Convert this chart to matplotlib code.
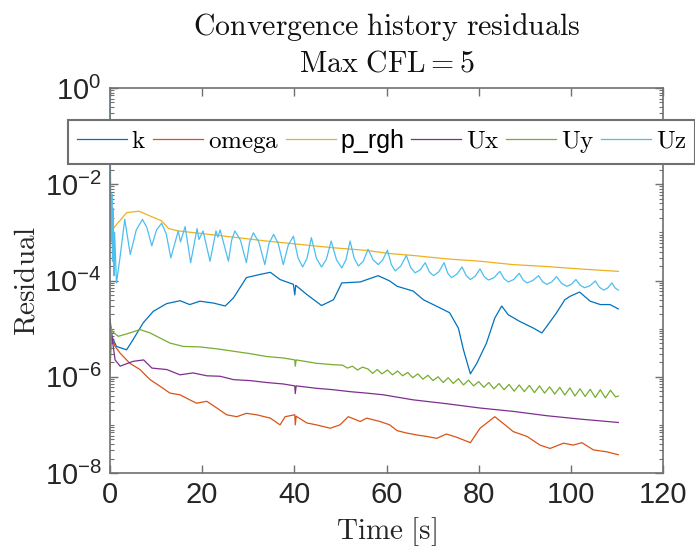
import numpy as np
import matplotlib
matplotlib.use("Agg")
import matplotlib.pyplot as plt
from matplotlib.ticker import FixedLocator, LogLocator, NullFormatter, FixedFormatter

plt.rcParams["font.family"] = ["Liberation Sans", "DejaVu Sans"]
plt.rcParams["mathtext.fontset"] = "cm"

# ---- residual histories (time [s], log10 of residual) ----
k_t = [0, 0.4, 1.4, 3.6, 5.0, 7.2, 9.4, 12.3, 15.2, 17.3, 19.5, 22.5, 25.0, 26.8, 29.6,
       32.5, 34.8, 36.9, 39.8, 40.1, 40.3, 42.7, 45.9, 48.5, 50.3, 54.3, 58.2, 60.7, 62.3,
       65.8, 68.0, 71.2, 73.7, 75.6, 76.7, 78.2, 79.6, 81.7, 83.5, 85.0, 86.4, 88.9, 91.9,
       93.7, 94.8, 96.9, 98.7, 99.8, 101.9, 104.2, 106.4, 108.5, 110.3]
k_log10 = [-4.9, -5.16, -5.37, -5.44, -5.23, -4.88, -4.64, -4.48, -4.42, -4.50, -4.43, -4.47,
           -4.53, -4.36, -3.94, -3.875, -3.83, -3.98, -4.08, -4.30, -4.10, -4.29, -4.52, -4.40,
           -4.05, -4.03, -3.90, -4.01, -4.12, -4.22, -4.40, -4.55, -4.67, -4.99, -5.44, -5.94,
           -5.72, -5.30, -4.78, -4.53, -4.71, -4.85, -4.99, -5.09, -4.95, -4.67, -4.40, -4.33,
           -4.24, -4.43, -4.50, -4.50, -4.59]

omega_t = [0, 0.3, 1.1, 2.2, 4.3, 6.5, 8.7, 10.9, 13.0, 15.2, 17.3, 18.8, 21.0, 23.2, 25.3,
           27.5, 29.6, 31.8, 34.8, 36.9, 38.0, 40.1, 40.2, 40.4, 42.7, 44.8, 47.8, 49.9, 51.7,
           54.3, 55.7, 58.6, 60.7, 62.3, 64.4, 66.6, 68.7, 70.9, 73.0, 75.3, 78.2, 80.3, 83.5,
           86.1, 87.5, 90.5, 93.3, 95.5, 98.4, 100.5, 102.4, 104.9, 107.8, 110.3]
omega_log10 = [-5.9, -5.16, -5.37, -5.51, -5.72, -5.85, -6.06, -6.20, -6.34, -6.375, -6.48,
               -6.55, -6.51, -6.65, -6.79, -6.83, -6.76, -6.79, -6.86, -7.00, -6.83, -6.79,
               -7.00, -6.82, -6.96, -7.00, -7.07, -7.00, -6.83, -6.93, -6.86, -6.93, -7.00,
               -7.12, -7.17, -7.21, -7.24, -7.28, -7.19, -7.26, -7.37, -7.07, -6.83, -7.03,
               -7.14, -7.24, -7.42, -7.49, -7.38, -7.42, -7.37, -7.52, -7.56, -7.62]

p_rgh_t = [0, 0.7, 3.6, 6.3, 8.7, 11.2, 12.7, 14.8, 19.5, 26.8, 34.0, 41.2, 48.5, 55.7,
           60.7, 65.8, 73.0, 80.3, 87.5, 94.8, 102.0, 110.3]
p_rgh_log10 = [-2.95, -2.92, -2.59, -2.56, -2.66, -2.76, -2.92, -2.97, -3.02, -3.10, -3.18,
               -3.25, -3.32, -3.375, -3.44, -3.48, -3.55, -3.60, -3.67, -3.71, -3.76, -3.81]

ux_t = [0, 0.6, 1.1, 2.2, 3.6, 5.0, 7.3, 9.1, 12.3, 15.2, 18.0, 21.0, 23.9, 26.8, 30.4,
        34.0, 37.6, 40.1, 40.2, 40.4, 44.8, 48.5, 52.1, 55.7, 59.3, 65.8, 73.0, 80.3, 87.5,
        94.8, 102.0, 110.3]
ux_log10 = [-4.8, -5.30, -5.65, -5.78, -5.73, -5.68, -5.65, -5.82, -5.85, -5.96, -5.92,
            -5.98, -5.99, -6.06, -6.08, -6.12, -6.15, -6.19, -6.35, -6.19, -6.24, -6.27,
            -6.31, -6.34, -6.375, -6.48, -6.56, -6.65, -6.72, -6.81, -6.88, -6.95]

uy_t = [0, 0.3, 0.5, 1.8, 4.3, 6.5, 8.7, 13.0, 15.9, 19.5, 23.2, 26.8, 30.4, 34.0, 37.6,
        40.1, 40.2, 40.4, 44.8, 48.5, 50.5, 51.5, 52.6, 53.7, 54.8, 56.0, 57.0, 58.0, 59.0,
        60.2, 61.3, 62.4, 63.5, 64.6, 65.7, 66.8, 67.9, 69.0, 70.1, 71.2, 72.3, 73.4, 74.5,
        75.6, 76.7, 77.8, 78.9, 80.0, 81.1, 82.2, 83.3, 84.4, 85.5, 86.6, 87.7, 88.8, 89.9,
        91.0, 92.1, 93.2, 94.3, 95.4, 96.5, 97.6, 98.7, 99.8, 100.9, 102.0, 103.1, 104.2,
        105.3, 106.4, 107.5, 108.6, 109.7, 110.3]
uy_log10 = [-5.7, -5.0, -5.06, -5.16, -5.09, -5.02, -5.09, -5.30, -5.37, -5.38, -5.42, -5.47,
            -5.52, -5.58, -5.61, -5.65, -5.78, -5.65, -5.72, -5.75, -5.76, -5.82, -5.78, -5.86,
            -5.80, -5.84, -5.93, -5.85, -5.94, -5.86, -5.96, -5.88, -5.98, -5.91, -6.02, -5.94,
            -6.05, -5.97, -6.08, -6.00, -6.12, -6.02, -6.14, -6.04, -6.17, -6.07, -6.19, -6.10,
            -6.22, -6.12, -6.25, -6.14, -6.27, -6.16, -6.30, -6.17, -6.31, -6.18, -6.33, -6.19,
            -6.34, -6.21, -6.36, -6.22, -6.38, -6.23, -6.40, -6.25, -6.41, -6.26, -6.43, -6.27,
            -6.44, -6.28, -6.42, -6.40]

uz_t = [0, 0.1, 0.25, 0.4, 0.55, 0.7, 0.85, 1.0, 1.4, 2.2, 3.2, 4.4, 5.7, 7.05, 8.0, 9.07,
        10.1, 11.2, 12.2, 13.2, 14.8, 15.3, 16.3, 17.5, 18.9, 19.3, 20.2, 21.7, 23.0, 23.4,
        23.9, 25.7, 26.4, 27.1, 28.3, 29.6, 30.3, 31.1, 32.3, 33.6, 34.5, 35.5, 36.5, 37.6,
        38.7, 39.8, 40.8, 41.8, 42.75, 43.7, 44.8, 45.9, 46.95, 48.0, 49.15, 50.3, 51.2,
        52.1, 53.0, 53.9, 54.95, 56.0, 57.1, 58.2, 59.2, 60.2, 61.05, 61.9, 63.1, 64.3,
        65.25, 66.2, 67.3, 68.4, 69.3, 70.2, 71.35, 72.5, 73.3, 74.1, 75.25, 76.4, 77.3,
        78.2, 79.25, 80.3, 81.2, 82.1, 83.35, 84.6, 85.5, 86.4, 87.6, 88.8, 89.65, 90.5,
        91.75, 93.0, 93.9, 94.8, 95.85, 96.9, 98.0, 99.1, 100.1, 101.1, 102.05, 103.0,
        104.15, 105.3, 106.2, 107.1, 108.0, 108.9, 109.6, 110.3]
uz_log10 = [0.0, -1.7, -3.2, -2.2, -3.6, -2.5, -3.9, -3.0, -4.05, -3.5, -2.73, -3.46, -2.95,
            -2.73, -2.90, -3.28, -2.95, -2.81, -3.03, -3.53, -2.97, -3.20, -2.88, -3.63, -2.92,
            -3.15, -2.97, -3.60, -2.97, -3.10, -2.95, -3.60, -3.16, -2.97, -3.16, -3.63, -3.20,
            -3.01, -3.20, -3.67, -3.23, -3.04, -3.23, -3.67, -3.26, -3.08, -3.53, -3.72, -3.54,
            -3.11, -3.54, -3.72, -3.56, -3.18, -3.57, -3.74, -3.57, -3.18, -3.54, -3.70, -3.60,
            -3.35, -3.57, -3.67, -3.57, -3.37, -3.67, -3.80, -3.70, -3.48, -3.73, -3.84, -3.78,
            -3.63, -3.82, -3.90, -3.82, -3.63, -3.85, -3.94, -3.87, -3.72, -3.90, -3.98, -3.91,
            -3.76, -3.92, -3.99, -3.94, -3.81, -3.96, -4.03, -3.98, -3.85, -3.99, -4.05, -4.00,
            -3.90, -4.03, -4.08, -4.03, -3.92, -4.06, -4.12, -4.08, -3.98, -4.10, -4.15, -4.11,
            -4.01, -4.14, -4.20, -4.155, -4.05, -4.155, -4.20]

legend_labels = [r"$\mathrm{k}$", r"$\mathrm{omega}$", "p_rgh",
                 r"$\mathrm{Ux}$", r"$\mathrm{Uy}$", r"$\mathrm{Uz}$"]
series_t = [k_t, omega_t, p_rgh_t, ux_t, uy_t, uz_t]
series_log10 = [k_log10, omega_log10, p_rgh_log10, ux_log10, uy_log10, uz_log10]
colors = ["#0072BD", "#D95319", "#EDB120", "#7E2F8E", "#77AC30", "#4DBEEE"]

x_ticks = [0, 20, 40, 60, 80, 100, 120]
y_tick_exps = [-8, -6, -4, -2, 0]

W, H = 695, 556
fig = plt.figure(figsize=(W / 100, H / 100), dpi=100)
ax_l, ax_r, ax_t, ax_b = 110, 663, 88, 473
ax = fig.add_axes([ax_l / W, 1 - ax_b / H, (ax_r - ax_l) / W, (ax_b - ax_t) / H])

for t, lg, c, lab in zip(series_t, series_log10, colors, legend_labels):
    ax.plot(t, 10.0 ** np.asarray(lg), color=c, lw=0.9, label=lab)

ax.set_yscale("log")
ax.set_xlim(0, 120)
ax.set_ylim(1e-8, 1e0)
ax.xaxis.set_major_locator(FixedLocator(x_ticks))
ax.yaxis.set_major_locator(FixedLocator([10.0 ** e for e in y_tick_exps]))
ax.yaxis.set_major_formatter(FixedFormatter(
    [r"$\mathdefault{10^{%d}}$" % e for e in y_tick_exps]))
ax.yaxis.set_minor_locator(LogLocator(base=10, subs=np.arange(1, 10), numticks=20))
ax.yaxis.set_minor_formatter(NullFormatter())

spine_col = "#707070"
for s in ax.spines.values():
    s.set_color(spine_col)
    s.set_linewidth(1.2)
ax.tick_params(which="both", direction="in", top=True, right=True,
               color=spine_col, labelcolor="#262626", labelsize=21)
ax.tick_params(which="major", length=6, width=1.0, pad=6)
ax.tick_params(which="minor", length=3, width=0.8)

ax.set_xlabel(r"$\mathrm{Time\ [s]}$", fontsize=21, color="#262626", labelpad=4)
ax.set_ylabel(r"$\mathrm{Residual}$", fontsize=21, color="#262626", labelpad=3)

cx = (ax_l + ax_r) / 2 / W
fig.text(cx, 1 - 35 / H, r"$\mathrm{Convergence\ history\ residuals}$",
         ha="center", va="baseline", fontsize=21.5, color="#111111")
fig.text(cx, 1 - 72 / H, r"$\mathrm{Max\ CFL} = 5$",
         ha="center", va="baseline", fontsize=21.5, color="#111111")

leg = fig.legend(loc="upper left", bbox_to_anchor=(68 / W, 1 - 120 / H), ncol=6,
                 fontsize=18, handlelength=2.0, handletextpad=0.18, columnspacing=0.28,
                 borderpad=0.35, borderaxespad=0, frameon=True, fancybox=False)
leg.get_frame().set_edgecolor(spine_col)
leg.get_frame().set_linewidth(1.5)
leg.get_frame().set_alpha(1)

fig.savefig("out.png", dpi=100)
